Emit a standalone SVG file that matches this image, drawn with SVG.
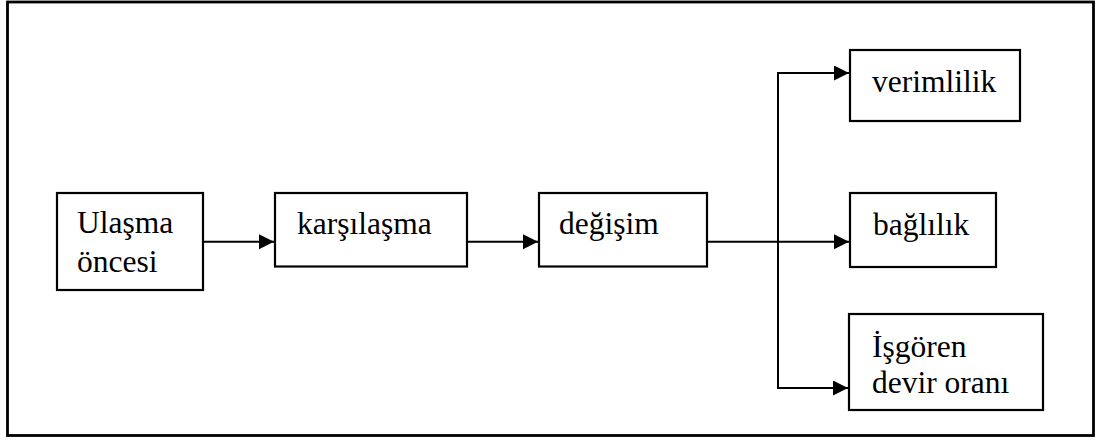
<svg xmlns="http://www.w3.org/2000/svg" width="1100" height="441" viewBox="0 0 1100 441">
<defs>
<marker id="ah" markerWidth="16" markerHeight="16" refX="15" refY="7.5" orient="auto" markerUnits="userSpaceOnUse">
<path d="M0,0 L15,7.5 L0,15 Z" fill="#000"/>
</marker>
<style>
.box{fill:#fff;stroke:#000;stroke-width:2.2}
.c{fill:none;stroke:#000;stroke-width:2}
</style>
</defs>
<rect x="0" y="0" width="1100" height="441" fill="#fff"/>
<rect x="7.5" y="2" width="1086" height="433.5" fill="none" stroke="#000" stroke-width="2.8"/>
<g id="connectors">
<path class="c" d="M203,241.7 H274" marker-end="url(#ah)"/>
<path class="c" d="M467,241.7 H538" marker-end="url(#ah)"/>
<path class="c" d="M707,241.7 H849" marker-end="url(#ah)"/>
<path class="c" d="M778,241.7 V73 H849" marker-end="url(#ah)"/>
<path class="c" d="M778,241.7 V388 H848" marker-end="url(#ah)"/>
</g>
<g font-family="Liberation Serif, DejaVu Serif, serif" font-size="31.5" fill="#000">
<g id="ulasma">
<rect class="box" x="57" y="193" width="146" height="97"/>
<text x="77" y="233">Ulaşma</text>
<text x="77" y="272">öncesi</text>
</g>
<g id="karsilasma">
<rect class="box" x="275" y="193" width="192" height="73.5"/>
<text x="297" y="234">karşılaşma</text>
</g>
<g id="degisim">
<rect class="box" x="539" y="193" width="168" height="73.5"/>
<text x="559" y="234">değişim</text>
</g>
<g id="verimlilik">
<rect class="box" x="850" y="50" width="170" height="71"/>
<text x="872" y="92">verimlilik</text>
</g>
<g id="baglilik">
<rect class="box" x="850" y="193" width="146" height="74"/>
<text x="873" y="235">bağlılık</text>
</g>
<g id="isgoren">
<rect class="box" x="849" y="314" width="194" height="96"/>
<text x="872" y="357">İşgören</text>
<text x="872" y="393">devir oranı</text>
</g>
</g>
</svg>
